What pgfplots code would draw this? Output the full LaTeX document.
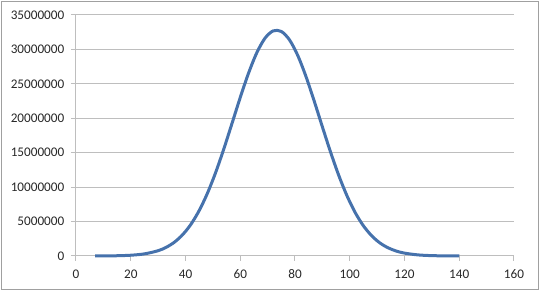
\documentclass[border=0pt]{standalone}
\usepackage{pgfplots}
\pgfplotsset{compat=1.18}
\usepackage{fontspec}
\setmainfont{Carlito}
\definecolor{linec}{RGB}{70,114,172}
\definecolor{gridc}{RGB}{190,190,190}
\definecolor{framec}{RGB}{160,160,160}
\definecolor{textc}{RGB}{40,40,40}
\begin{document}
\begin{tikzpicture}
\useasboundingbox (0,0) rectangle (405pt,218.25pt);
\draw[color=framec, line width=0.9pt] (1.2pt,1.2pt) rectangle (403.8pt,217pt);
\begin{axis}[
  at={(57pt,26.25pt)}, anchor=south west,
  scale only axis, width=328.5pt, height=180.75pt,
  xmin=0, xmax=160, ymin=0, ymax=35000000,
  xtick={0,20,...,160},
  ytick={0,5000000,10000000,15000000,20000000,25000000,30000000,35000000},
  axis lines*=left,
  axis line style={gridc, line width=0.75pt, -},
  ymajorgrids, grid style={gridc, line width=0.75pt},
  tick align=outside, major tick length=3.75pt,
  tick style={gridc, line width=0.75pt},
  scaled y ticks=false, scaled x ticks=false,
  /pgf/number format/assume math mode=true,
  /pgf/number format/fixed, /pgf/number format/1000 sep={},
  ticklabel style={font=\fontsize{9.9}{12}\selectfont, text=textc},
  xticklabel style={yshift=-3pt},
  yticklabel style={xshift=-1.5pt},
  clip=false,
]
\addplot[linec, line width=2.25pt, smooth, no markers] coordinates {
(7,4900) (10,10700) (15,36000) (20,111000) (25,307000) (30,767000)
(33,1270000) (36,2020000) (39,3110000) (42,4610000) (45,6600000)
(48,9100000) (51,12110000) (54,15550000) (57,19270000) (60,23020000)
(63,26520000) (66,29480000) (69,31610000) (72,32690000) (75,32610000)
(78,31380000) (81,29130000) (84,26080000) (87,22520000) (90,18760000)
(93,15080000) (96,11690000) (99,8740000) (102,6300000) (105,4380000)
(108,2940000) (111,1900000) (114,1190000) (117,715000) (120,416000)
(125,155000) (130,52000) (135,16000) (140,4400)
};
\end{axis}
\end{tikzpicture}
\end{document}
